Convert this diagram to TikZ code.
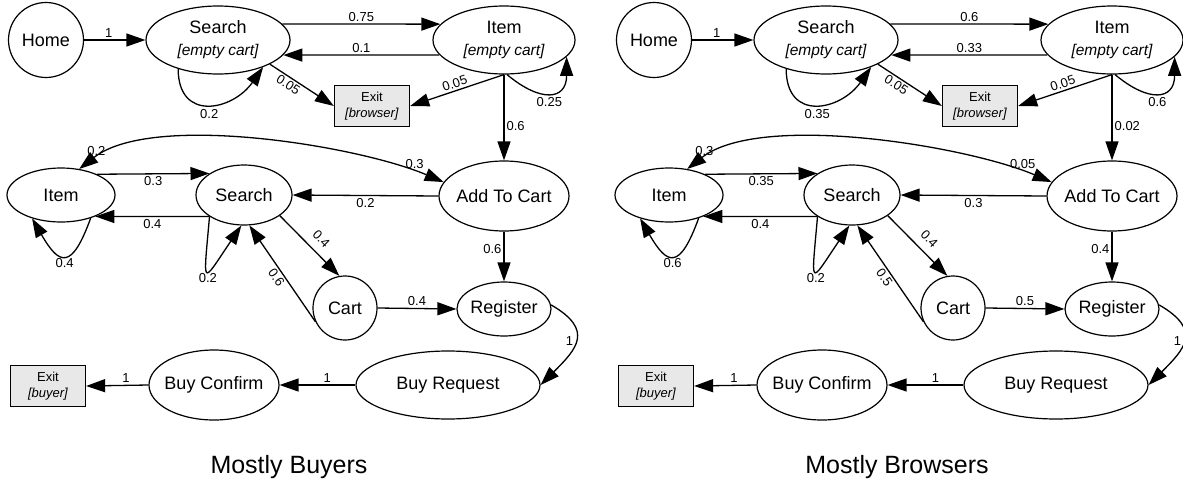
\documentclass[tikz,border=0pt]{standalone}
\usepackage{fontspec}
\setmainfont{Liberation Sans}
\usetikzlibrary{arrows.meta,shapes.geometric}

\newcommand{\cartnote}[1]{{\fontsize{15.5}{18}\selectfont\itshape #1}}

\tikzset{
  page/.style={ellipse, draw, line width=1.2pt, inner xsep=-4pt, inner ysep=0pt,
    align=center, font=\fontsize{18}{22}\selectfont},
  roundpage/.style={page, circle},
  exitbox/.style={rectangle, draw, fill=gray!18, line width=1.3pt,
    minimum width=75pt, minimum height=41pt, inner sep=0pt, align=center,
    font=\fontsize{13}{16}\selectfont},
  prob/.style={font=\fontsize{13}{15}\selectfont, inner sep=2pt},
  link/.style={->, line width=1.3pt, nodes={prob}},
  twoway/.style={link, <->},
  grouptitle/.style={font=\fontsize{25}{30}\selectfont}
}

\begin{document}
\begin{tikzpicture}[x=1pt, y=1pt, >={Triangle[length=19pt,width=13pt]}]
    \useasboundingbox (0,0) rectangle (1183,-482);

    % the pages of both graphs, the right one is shifted
    \foreach \s/\dx/\who in {a/0/Buyers, b/608/Browsers} {
        \begin{scope}[xshift=\dx pt]
        \node[roundpage, minimum size=75pt] (\s-home) at (46,-40) {Home};
        \node[page, minimum width=144pt, minimum height=68pt] (\s-search0) at (218,-40) {Search\\\cartnote{[empty cart]}};
        \node[page, minimum width=142pt, minimum height=68pt] (\s-item0) at (504,-40) {Item\\\cartnote{[empty cart]}};
        \node[exitbox] (\s-exit0) at (372,-106) {Exit\\\textit{[browser]}};
        \node[page, minimum width=108pt, minimum height=54pt] (\s-item1) at (61,-195) {Item};
        \node[page, minimum width=96pt, minimum height=60pt] (\s-search1) at (244,-195) {Search};
        \node[page, minimum width=130pt, minimum height=70pt] (\s-add) at (504,-196) {Add To Cart};
        \node[roundpage, minimum size=64pt] (\s-cart) at (345,-308) {Cart};
        \node[page, minimum width=94pt, minimum height=54pt] (\s-reg) at (504,-309) {Register};
        \node[page, minimum width=184pt, minimum height=68pt] (\s-buyreq) at (448,-385) {Buy Request};
        \node[page, minimum width=130pt, minimum height=70pt] (\s-buyconf) at (214,-385) {Buy Confirm};
        \node[exitbox] (\s-exit1) at (48,-386) {Exit\\\textit{[buyer]}};
        \node[grouptitle] (\s-title) at (289,-467) {Mostly \who};
        \end{scope}
    }

    % mostly buyers
    \draw[link] (a-home) -- node[above, pos=0.4]{1} (a-search0);
    \draw[link] (a-search0.14) -- node[above]{0.75} (a-item0.166);
    \draw[link] (a-item0.193) -- node[above]{0.1} (a-search0.-13);
    \draw[link] (a-search0.216) to[out=270, in=235, looseness=1.6] node[below=2pt]{0.2} (a-search0.-31);
    \draw[link] (a-search0.-25) -- node[sloped, below, pos=0.35]{0.05} (a-exit0.west);
    \draw[link] (a-item0.south) -- node[sloped, above]{0.05} (a-exit0.east);
    \draw[link] (a-item0.-85) to[out=-40, in=-90, looseness=1.8] node[below=2pt]{0.25} (a-item0.-15);
    \draw[link] (a-item0.south) -- node[right, pos=0.6]{0.6} (a-add.north);
    \draw[twoway] (a-item1.55) to[out=38, in=157, looseness=0.65] node[above, pos=0.07]{0.2} node[above, pos=0.9]{0.3} (a-add.167);
    \draw[link] (a-item1.30) -- node[below]{0.3} (a-search1.148);
    \draw[link] (a-search1.212) -- node[below]{0.4} (a-item1.-32);
    \draw[link] (a-item1.-38) to[out=-110, in=-60, looseness=2.4] node[below]{0.4} (a-item1.219);
    \draw[link] (a-search1.212) to[out=-95, in=-124, looseness=5.6] node[below]{0.2} (a-search1.-95);
    \draw[link] (a-add.west) -- node[below]{0.2} (a-search1.east);
    \draw[link] (a-search1.-30) -- node[sloped, above=6pt, pos=0.54]{0.4} (a-cart.100);
    \draw[link] (a-cart.205) -- node[sloped, below]{0.6} (a-search1.-80);
    \draw[link] (a-cart.east) -- node[above]{0.4} (a-reg.west);
    \draw[link] (a-add.south) -- node[left, pos=0.35]{0.6} (a-reg.north);
    \draw[link] (a-reg.5) to[out=-30, in=45, looseness=1.6] node[left]{1} (a-buyreq.east);
    \draw[link] (a-buyreq.west) -- node[above, pos=0.37]{1} (a-buyconf.east);
    \draw[link] (a-buyconf.west) -- node[above, pos=0.36]{1} (a-exit1.east);

    % mostly browsers
    \draw[link] (b-home) -- node[above, pos=0.4]{1} (b-search0);
    \draw[link] (b-search0.14) -- node[above]{0.6} (b-item0.166);
    \draw[link] (b-item0.193) -- node[above]{0.33} (b-search0.-13);
    \draw[link] (b-search0.216) to[out=270, in=235, looseness=1.6] node[below=2pt]{0.35} (b-search0.-31);
    \draw[link] (b-search0.-25) -- node[sloped, below, pos=0.35]{0.05} (b-exit0.west);
    \draw[link] (b-item0.south) -- node[sloped, above]{0.05} (b-exit0.east);
    \draw[link] (b-item0.-85) to[out=-40, in=-90, looseness=1.8] node[below=2pt]{0.6} (b-item0.-15);
    \draw[link] (b-item0.south) -- node[right, pos=0.6]{0.02} (b-add.north);
    \draw[twoway] (b-item1.55) to[out=38, in=157, looseness=0.65] node[above, pos=0.07]{0.3} node[above, pos=0.9]{0.05} (b-add.167);
    \draw[link] (b-item1.30) -- node[below]{0.35} (b-search1.148);
    \draw[link] (b-search1.212) -- node[below]{0.4} (b-item1.-32);
    \draw[link] (b-item1.-38) to[out=-110, in=-60, looseness=2.4] node[below]{0.6} (b-item1.219);
    \draw[link] (b-search1.212) to[out=-95, in=-124, looseness=5.6] node[below]{0.2} (b-search1.-95);
    \draw[link] (b-add.west) -- node[below]{0.3} (b-search1.east);
    \draw[link] (b-search1.-30) -- node[sloped, above=6pt, pos=0.54]{0.4} (b-cart.100);
    \draw[link] (b-cart.205) -- node[sloped, below]{0.5} (b-search1.-80);
    \draw[link] (b-cart.east) -- node[above]{0.5} (b-reg.west);
    \draw[link] (b-add.south) -- node[left, pos=0.35]{0.4} (b-reg.north);
    \draw[link] (b-reg.5) to[out=-30, in=45, looseness=1.6] node[left]{1} (b-buyreq.east);
    \draw[link] (b-buyreq.west) -- node[above, pos=0.37]{1} (b-buyconf.east);
    \draw[link] (b-buyconf.west) -- node[above, pos=0.36]{1} (b-exit1.east);
\end{tikzpicture}
\end{document}
